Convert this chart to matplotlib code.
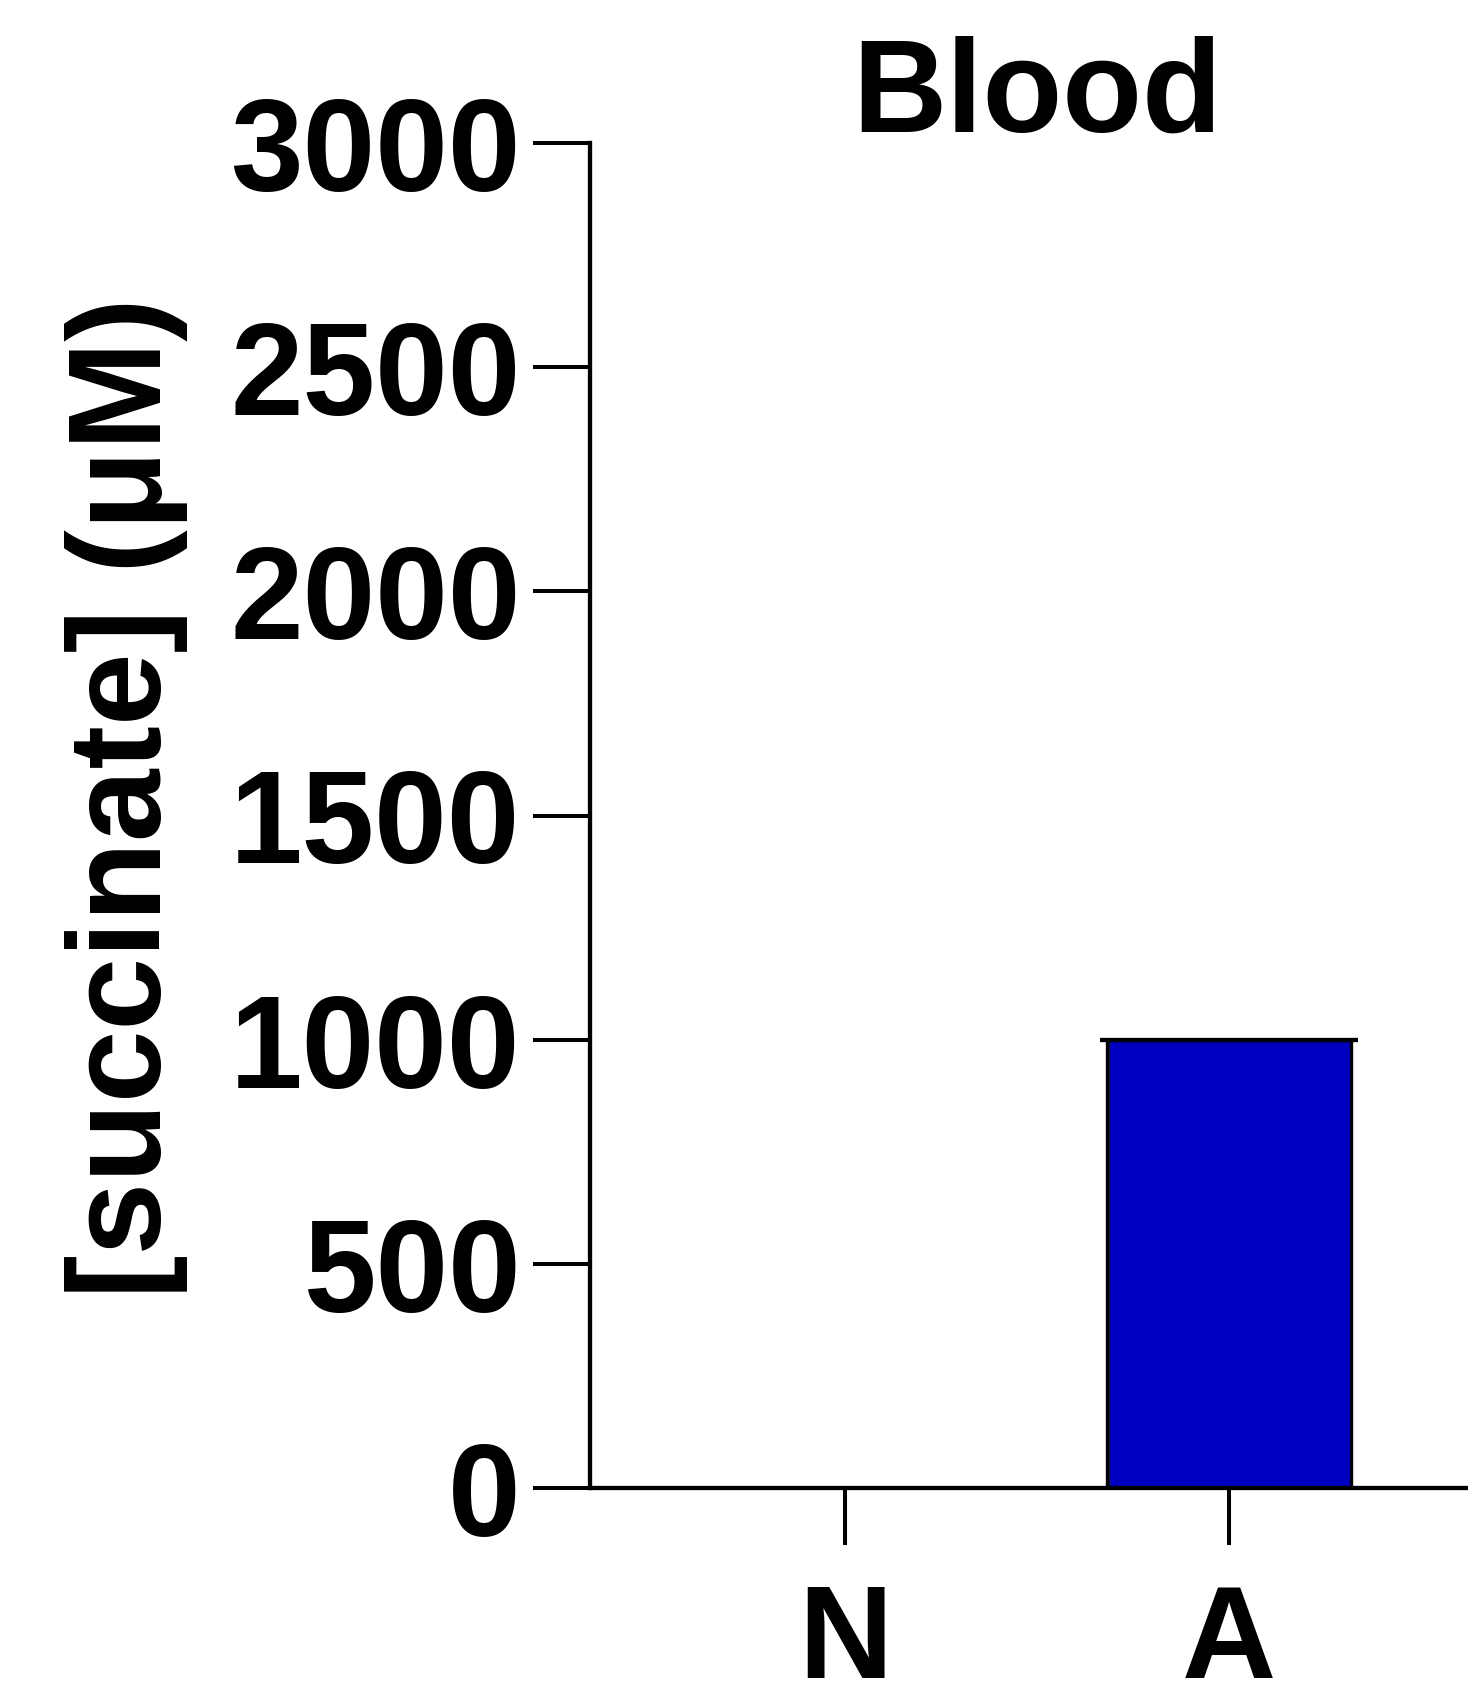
import numpy as np
import matplotlib
matplotlib.use("Agg")
import matplotlib.pyplot as plt

# data
groups = ["N", "A"]
succinate = [0, 1000]
sem = [0, 0]
y_ticks = [0, 500, 1000, 1500, 2000, 2500, 3000]

plt.rcParams['font.family'] = ['Liberation Sans', 'DejaVu Sans']
plt.rcParams['font.weight'] = 'bold'

fig = plt.figure(figsize=(14.68, 16.96), dpi=100)
# axes runs a little past the right edge, like the cropped original
ax = fig.add_axes([590 / 1468, 208 / 1696, 894 / 1468, 1345 / 1696])

x = np.arange(len(groups))
ax.bar(x, succinate, width=0.635, color='#0000C0', edgecolor='black',
       linewidth=2.4, zorder=2)
ax.errorbar(x[1:], succinate[1:], yerr=sem[1:], fmt='none', ecolor='black',
            elinewidth=2.5, capsize=93, capthick=3.0, zorder=3)

ax.set_xlim(-0.664, 1.664)
ax.set_ylim(0, 3000)
ax.set_xticks(x)
ax.set_xticklabels(groups)
ax.set_yticks(y_ticks)

for side in ['top', 'right']:
    ax.spines[side].set_visible(False)
for side in ['left', 'bottom']:
    ax.spines[side].set_linewidth(3.1)
    ax.spines[side].set_capstyle('projecting')
    ax.spines[side].set_zorder(4)

ax.tick_params(axis='both', which='major', length=41, width=2.9,
               labelsize=94, direction='out', color='black')
ax.tick_params(axis='y', pad=9)
ax.tick_params(axis='x', pad=27)
for lbl in ax.get_xticklabels() + ax.get_yticklabels():
    lbl.set_fontweight('bold')

ax.set_ylabel("[succinate] (\u03bcM)", fontsize=94, fontweight='bold')
ax.yaxis.set_label_coords(-0.4497, 0.513)

# title sits close to the top of the axis
ax.text(0.5, 1.0 + 11 / 1345, "Blood", transform=ax.transAxes,
        ha='center', va='baseline', fontsize=94, fontweight='bold')

plt.savefig("out.png", dpi=100)
